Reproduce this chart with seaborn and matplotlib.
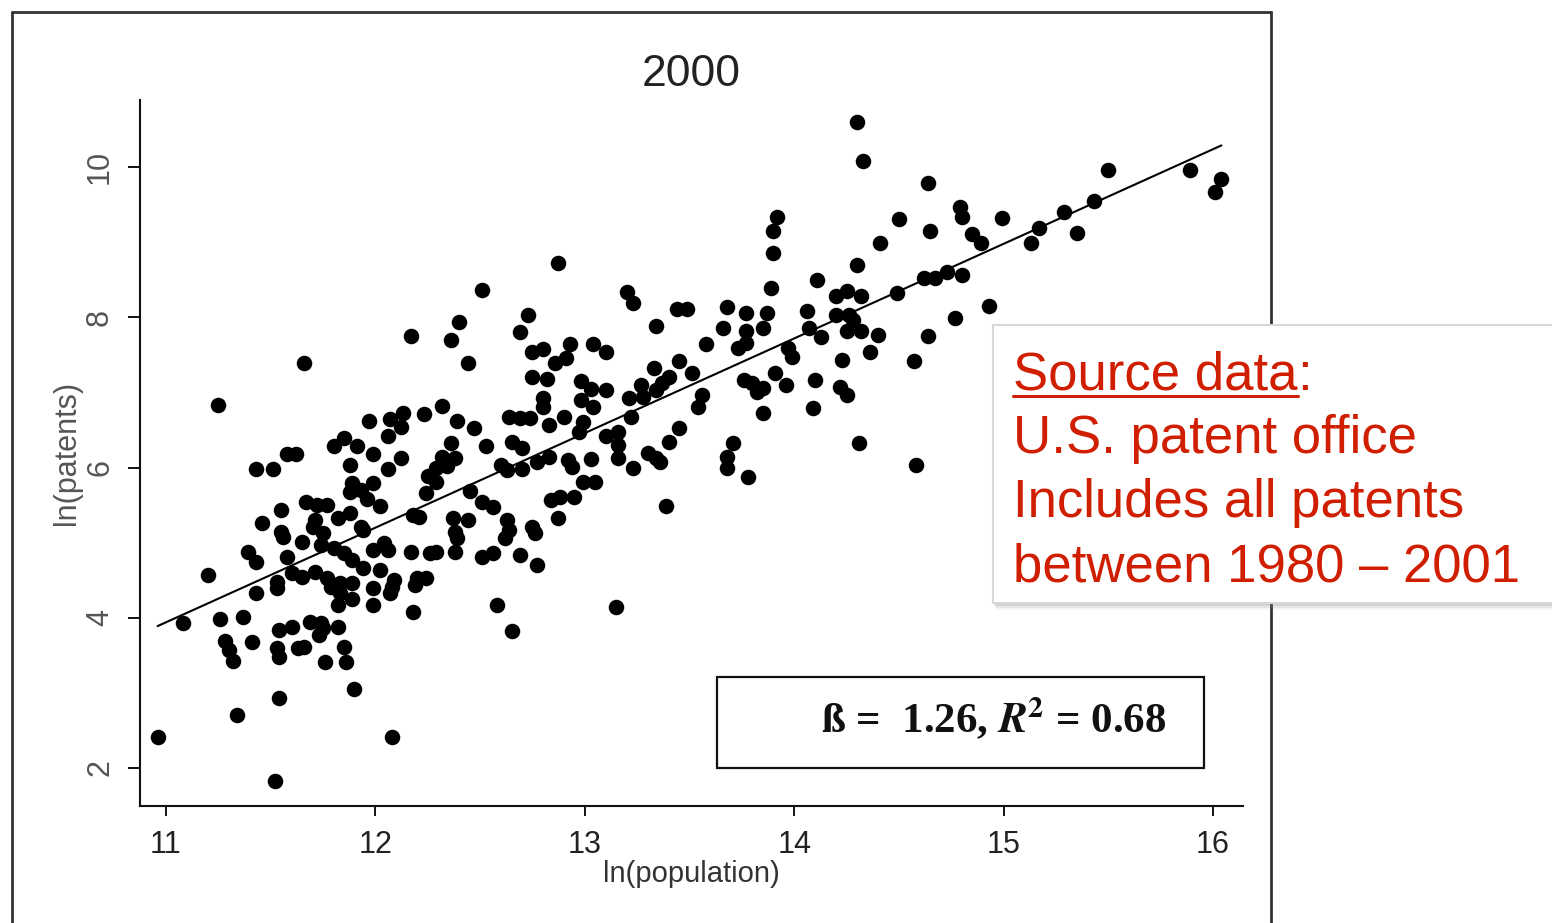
import numpy as np
import pandas as pd
import matplotlib
matplotlib.use("Agg")
import matplotlib.pyplot as plt
import seaborn as sns
from matplotlib.patches import Rectangle
from matplotlib.lines import Line2D

# ---- data: metro areas in 2000, log population vs log patent count ----
ln_population = [
    12.51, 12.40, 12.17, 12.36, 14.30, 14.33, 13.92, 13.90, 13.90, 13.89,
    14.11, 14.30, 12.87, 13.20, 13.23, 12.73, 12.69, 13.34, 13.44, 13.49,
    13.68, 13.66, 13.77, 13.87, 13.77, 13.85, 14.06, 14.07, 14.20, 14.25,
    14.32, 14.20, 14.26, 14.28, 14.25, 14.32, 14.13, 14.64, 15.50, 15.89,
    16.04, 16.01, 14.50, 14.65, 14.79, 14.80, 14.85, 14.89, 14.41, 14.99,
    15.13, 15.17, 15.29, 15.35, 15.43, 14.49, 14.62, 14.67, 14.73, 14.80,
    14.93, 14.77, 14.40, 14.64, 14.36, 14.57, 14.31, 14.58, 12.75, 12.80,
    12.93, 13.04, 13.10, 12.86, 12.91, 12.75, 12.82, 12.98, 13.03, 13.10,
    12.80, 12.80, 12.98, 13.04, 12.64, 12.69, 12.74, 12.83, 12.90, 12.99,
    12.97, 12.65, 12.70, 12.60, 12.63, 12.70, 12.77, 12.83, 12.92, 12.94,
    13.03, 12.99, 13.05, 12.84, 12.88, 12.95, 12.87, 12.63, 12.64, 12.62,
    12.75, 12.76, 12.69, 12.77, 13.10, 13.16, 13.16, 13.16, 13.21, 13.22,
    13.23, 13.27, 13.28, 13.33, 13.34, 13.37, 13.40, 13.45, 13.51, 13.30,
    13.34, 13.36, 13.40, 13.45, 13.39, 13.56, 13.54, 13.58, 13.73, 13.77,
    13.97, 13.99, 13.76, 13.80, 13.82, 13.85, 13.91, 13.96, 13.85, 13.71,
    13.68, 13.68, 13.78, 14.10, 14.09, 14.23, 14.22, 14.25, 11.66, 12.44,
    11.25, 11.97, 12.07, 12.13, 12.12, 12.23, 12.32, 12.39, 12.47, 12.06,
    11.80, 11.85, 11.91, 11.99, 12.12, 12.36, 12.53, 11.58, 11.62, 11.43,
    11.51, 11.88, 12.06, 12.32, 12.38, 12.29, 12.34, 12.25, 12.29, 11.89,
    11.99, 11.93, 11.88, 12.24, 12.45, 11.96, 12.02, 11.67, 11.72, 11.77,
    11.55, 12.51, 12.56, 11.46, 11.71, 11.82, 11.88, 11.70, 11.75, 11.93,
    11.94, 11.55, 11.56, 12.18, 12.21, 12.37, 12.44, 12.38, 12.39, 11.65,
    11.74, 11.80, 11.85, 11.89, 11.99, 12.04, 12.06, 12.17, 12.26, 12.29,
    12.38, 12.51, 12.56, 11.39, 11.43, 11.58, 11.20, 11.53, 11.53, 11.60,
    11.65, 11.71, 11.77, 11.79, 11.83, 11.83, 11.89, 11.89, 11.82, 11.94,
    12.02, 12.09, 12.08, 12.07, 11.99, 11.99, 12.20, 12.24, 12.19, 12.18,
    12.58, 12.65, 11.43, 11.08, 11.26, 11.37, 11.28, 11.30, 11.32, 11.41,
    11.54, 11.60, 11.53, 11.54, 11.63, 11.66, 11.69, 11.74, 11.73, 11.75,
    11.82, 11.85, 11.76, 11.86, 11.90, 11.54, 11.34, 10.96, 12.08, 11.52,
    13.15,
]
ln_patents = [
    8.37, 7.94, 7.75, 7.70, 10.60, 10.08, 9.34, 9.15, 8.86, 8.39,
    8.50, 8.70, 8.72, 8.34, 8.19, 8.03, 7.81, 7.89, 8.11, 8.11,
    8.14, 7.86, 8.06, 8.06, 7.82, 7.86, 8.09, 7.86, 8.29, 8.35,
    8.29, 8.03, 8.03, 7.97, 7.82, 7.82, 7.74, 9.79, 9.96, 9.96,
    9.84, 9.67, 9.31, 9.15, 9.47, 9.34, 9.11, 8.99, 8.99, 9.32,
    8.99, 9.19, 9.40, 9.12, 9.55, 8.33, 8.52, 8.52, 8.60, 8.56,
    8.15, 7.99, 7.77, 7.75, 7.54, 7.42, 6.33, 6.03, 7.54, 7.58,
    7.65, 7.65, 7.54, 7.39, 7.46, 7.21, 7.18, 7.15, 7.05, 7.03,
    6.93, 6.81, 6.90, 6.81, 6.67, 6.66, 6.66, 6.57, 6.67, 6.61,
    6.47, 6.34, 6.26, 6.03, 5.97, 5.98, 6.07, 6.14, 6.10, 6.01,
    6.11, 5.81, 5.81, 5.57, 5.61, 5.61, 5.33, 5.30, 5.17, 5.06,
    5.21, 5.13, 4.84, 4.70, 6.42, 6.47, 6.30, 6.13, 6.93, 6.67,
    6.00, 7.10, 6.94, 7.33, 7.03, 7.13, 7.21, 7.42, 7.26, 6.19,
    6.13, 6.07, 6.34, 6.53, 5.49, 6.97, 6.81, 7.65, 7.59, 7.66,
    7.59, 7.47, 7.17, 7.13, 7.01, 7.06, 7.26, 7.10, 6.73, 6.33,
    6.14, 6.00, 5.88, 7.17, 6.79, 7.43, 7.07, 6.97, 7.39, 7.39,
    6.83, 6.62, 6.65, 6.73, 6.54, 6.71, 6.82, 6.62, 6.53, 6.42,
    6.29, 6.39, 6.29, 6.18, 6.13, 6.33, 6.29, 6.18, 6.18, 5.98,
    5.98, 6.03, 5.98, 6.14, 6.13, 6.00, 6.02, 5.89, 5.81, 5.80,
    5.80, 5.70, 5.68, 5.66, 5.69, 5.58, 5.49, 5.54, 5.50, 5.50,
    5.44, 5.54, 5.48, 5.26, 5.30, 5.33, 5.40, 5.21, 5.13, 5.21,
    5.17, 5.14, 5.08, 5.37, 5.34, 5.33, 5.30, 5.14, 5.06, 5.01,
    4.97, 4.93, 4.86, 4.77, 4.90, 5.00, 4.90, 4.88, 4.86, 4.88,
    4.88, 4.81, 4.86, 4.88, 4.74, 4.81, 4.57, 4.48, 4.40, 4.60,
    4.54, 4.61, 4.53, 4.41, 4.46, 4.33, 4.46, 4.25, 4.17, 4.66,
    4.64, 4.50, 4.41, 4.33, 4.40, 4.17, 4.53, 4.53, 4.44, 4.08,
    4.17, 3.82, 4.33, 3.93, 3.98, 4.01, 3.69, 3.57, 3.42, 3.68,
    3.84, 3.88, 3.60, 3.48, 3.60, 3.61, 3.94, 3.93, 3.77, 3.86,
    3.88, 3.61, 3.41, 3.41, 3.05, 2.93, 2.71, 2.41, 2.41, 1.83,
    4.14,
]

# fitted scaling relation
BETA = 1.26
INTERCEPT = -9.92
R_SQUARED = 0.68

YEAR = "2000"
X_LABEL = "ln(population)"
Y_LABEL = "ln(patents)"
X_TICKS = [11, 12, 13, 14, 15, 16]
Y_TICKS = [2, 4, 6, 8, 10]

SOURCE_HEAD = "Source data"
SOURCE_LINES = ["U.S. patent office", "Includes all patents", "between 1980 \u2013 2001"]
NOTE_RED = "#D01E00"

# ---- style ----
sns.set_style("ticks")
plt.rcParams["font.family"] = ["Liberation Sans", "DejaVu Sans"]
plt.rcParams["mathtext.fontset"] = "stix"

W, H = 1552, 923
fig = plt.figure(figsize=(W / 100, H / 100), dpi=100)
ax = fig.add_axes([140 / W, 1 - 806 / H, (1243 - 140) / W, (806 - 100) / H])

df = pd.DataFrame({"ln_population": ln_population, "ln_patents": ln_patents})
sns.scatterplot(data=df, x="ln_population", y="ln_patents", color="black",
                s=125, linewidth=0, ax=ax, zorder=3)

x_fit = np.array([df["ln_population"].min(), df["ln_population"].max()])
sns.lineplot(x=x_fit, y=INTERCEPT + BETA * x_fit, color="black", lw=1.5,
             ax=ax, zorder=4)

ax.set_xlim(10.876, 16.143)
ax.set_ylim(1.494, 10.895)
ax.set_xticks(X_TICKS)
ax.set_yticks(Y_TICKS)
ax.set_xticklabels([str(t) for t in X_TICKS])
ax.set_yticklabels([str(t) for t in Y_TICKS], rotation=90, va="center")
sns.despine(ax=ax)
for side in ("left", "bottom"):
    ax.spines[side].set_linewidth(1.5)
    ax.spines[side].set_color("#111111")
ax.tick_params(axis="x", length=7.5, width=1.4, pad=10, labelsize=22,
               colors="#111111", labelcolor="#222222")
ax.tick_params(axis="y", length=9, width=1.4, pad=9, labelsize=22,
               colors="#111111", labelcolor="#555555")
ax.set_xlabel(X_LABEL, fontsize=21, color="#333333", labelpad=0)
ax.set_ylabel(Y_LABEL, fontsize=22, color="#555555", labelpad=2)
ax.set_title(YEAR, fontsize=32, color="#222222", pad=10)

# regression summary box
ax.add_patch(Rectangle((0.523, 0.0538), 0.4416, 0.1289, transform=ax.transAxes,
                       fill=False, lw=1.6, ec="#111111", zorder=5))
stat_text = (f"\u00df =  {BETA:.2f}, " + r"$\mathbfit{R}^{\mathbf{2}}$"
             + f" = {R_SQUARED:.2f}")
ax.text(0.931, 0.1048, stat_text, transform=ax.transAxes, ha="right",
        va="baseline", fontsize=31, fontweight="bold",
        family=["Liberation Serif", "DejaVu Serif"], color="#111111", zorder=6)

# slide frame around the chart
fx = lambda px: px / W
fy = lambda py: 1 - py / H
frame_kw = dict(color="#333333", lw=2.0, transform=fig.transFigure)
fig.add_artist(Line2D([fx(12), fx(1271)], [fy(12), fy(12)], **frame_kw))
fig.add_artist(Line2D([fx(12), fx(12)], [fy(12), 0], **frame_kw))
fig.add_artist(Line2D([fx(1271), fx(1271)], [fy(12), 0], **frame_kw))

# callout box with soft drop shadow
bx0, by0, bx1, by1 = fx(993), fy(603), 1.02, fy(325)
for off, alpha in [(7, 0.08), (5, 0.12), (3, 0.18)]:
    fig.add_artist(Rectangle((bx0 + off * 0.4 / W, by0 - off / H), bx1 - bx0, by1 - by0,
                             transform=fig.transFigure, fc="#808080", ec="none",
                             alpha=alpha, zorder=10))
fig.add_artist(Rectangle((bx0, by0), bx1 - bx0, by1 - by0, transform=fig.transFigure,
                         fc="white", ec="#d8d8d8", lw=1.5, zorder=11))

head = fig.text(fx(1013), fy(390), SOURCE_HEAD, fontsize=38, color=NOTE_RED,
                ha="left", va="baseline", zorder=12)
renderer = fig.canvas.get_renderer()
bb = head.get_window_extent(renderer)
fig.text(bb.x1 / W, fy(390), ":", fontsize=38, color=NOTE_RED,
         ha="left", va="baseline", zorder=12)
fig.add_artist(Line2D([bb.x0 / W, bb.x1 / W], [fy(396), fy(396)], color=NOTE_RED,
                      lw=2.2, transform=fig.transFigure, zorder=12))
for i, line in enumerate(SOURCE_LINES):
    fig.text(fx(1013), fy(453 + 64 * i), line, fontsize=38, color=NOTE_RED,
             ha="left", va="baseline", zorder=12)

fig.savefig("out.png", dpi=100)
